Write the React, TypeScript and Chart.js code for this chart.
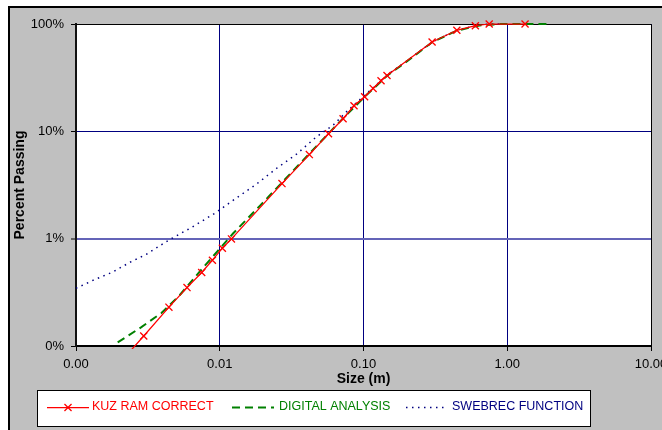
import React, { useEffect, useRef } from 'react';
import { Chart, registerables } from 'chart.js';

Chart.register(...registerables);

// Particle size (m) and cumulative percent passing for each gradation curve
const kuzSize = [0.0021, 0.00296, 0.00443, 0.00592, 0.00749, 0.00889, 0.01043, 0.01206, 0.0271, 0.042, 0.0571, 0.0721, 0.0859, 0.1018, 0.1166, 0.1324, 0.1457, 0.3, 0.446, 0.6, 0.749, 1.33];
const kuzPassing = [0.074, 0.124, 0.23, 0.35, 0.484, 0.63, 0.815, 0.995, 3.26, 6.07, 9.49, 13.1, 17.3, 21.0, 25.1, 29.6, 33.1, 67.9, 87.4, 96.4, 100, 100];

const digSize = [0.00195, 0.00285, 0.00393, 0.00526, 0.00706, 0.00922, 0.01237, 0.019, 0.0327, 0.0491, 0.072, 0.102, 0.146, 0.2, 0.3, 0.446, 0.64, 0.889, 2.0];
const digPassing = [0.108, 0.15, 0.203, 0.297, 0.473, 0.712, 1.117, 2.02, 4.35, 7.72, 13.2, 21.0, 33.0, 44.8, 67.5, 86.8, 97.0, 100, 100];

const swbSize = [0.001, 0.00135, 0.00181, 0.00236, 0.00309, 0.00441, 0.00635, 0.00922, 0.0127, 0.018, 0.0248, 0.0342, 0.0471, 0.0614, 0.0761, 0.1023, 0.146, 0.2, 0.3, 0.446, 0.6, 0.75, 1.0];
const swbPassing = [0.345, 0.416, 0.49, 0.6, 0.716, 0.968, 1.27, 1.72, 2.33, 3.22, 4.51, 6.13, 8.9, 11.4, 15.2, 21.8, 33.5, 45.2, 68.0, 87.5, 96.6, 99.7, 100];

const seriesNames = ['KUZ RAM CORRECT', 'DIGITAL ANALYSIS', 'SWEBREC FUNCTION'];

const xTickValues = [0.001, 0.01, 0.1, 1, 10];
const xTickLabels = ['0.00', '0.01', '0.10', '1.00', '10.00'];
const yTickValues = [0.1, 1, 10, 100];
const yTickLabels = ['0%', '1%', '10%', '100%'];

const FONT = '"Liberation Sans", Arial, sans-serif';

const toPoints = (xs: number[], ys: number[]) => xs.map((x, i) => ({ x, y: ys[i] }));

// White plot background plus the black frame on the top and right sides
const plotFrame = {
  id: 'plotFrame',
  beforeDraw(chart: any) {
    const { ctx, chartArea: a } = chart;
    ctx.save();
    ctx.fillStyle = '#ffffff';
    ctx.fillRect(a.left, a.top, a.right - a.left, a.bottom - a.top);
    ctx.restore();
  },
  beforeDatasetsDraw(chart: any) {
    const { ctx, chartArea: a } = chart;
    ctx.save();
    ctx.strokeStyle = '#000000';
    ctx.lineWidth = 1;
    ctx.beginPath();
    ctx.moveTo(Math.round(a.left), Math.round(a.top) + 0.5);
    ctx.lineTo(Math.round(a.right) + 0.5, Math.round(a.top) + 0.5);
    ctx.lineTo(Math.round(a.right) + 0.5, Math.round(a.bottom));
    ctx.stroke();
    ctx.restore();
  },
};

// Boxed series key along the bottom of the figure
const seriesKey = {
  id: 'seriesKey',
  afterDraw(chart: any) {
    const { ctx } = chart;
    const box = { x: 37, y: 390, w: 553, h: 37 };
    const samples = [
      { x0: 47, x1: 89, tx: 92 },
      { x0: 232, x1: 274, tx: 279 },
      { x0: 406, x1: 448, tx: 452 },
    ];
    const cy = 407.5;
    ctx.save();
    ctx.fillStyle = '#ffffff';
    ctx.fillRect(box.x, box.y, box.w, box.h);
    ctx.strokeStyle = '#000000';
    ctx.lineWidth = 1;
    ctx.strokeRect(box.x + 0.5, box.y + 0.5, box.w, box.h - 1);
    chart.data.datasets.forEach((ds: any, i: number) => {
      const s = samples[i];
      ctx.strokeStyle = ds.borderColor;
      ctx.lineWidth = ds.borderWidth;
      ctx.setLineDash(ds.borderDash || []);
      ctx.beginPath();
      ctx.moveTo(s.x0, cy);
      ctx.lineTo(s.x1, cy);
      ctx.stroke();
      ctx.setLineDash([]);
      if (ds.pointRadius > 0) {
        const r = ds.pointRadius * Math.SQRT1_2;
        const mx = (s.x0 + s.x1) / 2;
        ctx.lineWidth = ds.pointBorderWidth;
        ctx.beginPath();
        ctx.moveTo(mx - r, cy - r);
        ctx.lineTo(mx + r, cy + r);
        ctx.moveTo(mx - r, cy + r);
        ctx.lineTo(mx + r, cy - r);
        ctx.stroke();
      }
      ctx.fillStyle = ds.borderColor;
      ctx.font = `12.5px ${FONT}`;
      ctx.textAlign = 'left';
      ctx.textBaseline = 'middle';
      ctx.fillText(ds.label, s.tx, cy - 0.5);
    });
    ctx.restore();
  },
};

export default function App() {
  const canvasRef = useRef<HTMLCanvasElement | null>(null);

  useEffect(() => {
    const canvas = canvasRef.current;
    if (!canvas) return;
    const lineClip = { left: 2, top: 6, right: 6, bottom: 3 };
    const chart = new Chart(canvas, {
      type: 'line',
      data: {
        datasets: [
          {
            label: seriesNames[0],
            data: toPoints(kuzSize, kuzPassing),
            borderColor: '#ff0000',
            backgroundColor: '#ff0000',
            borderWidth: 1.25,
            pointStyle: 'crossRot',
            pointRadius: 5,
            pointBorderColor: '#ff0000',
            pointBorderWidth: 1.3,
            tension: 0,
            clip: lineClip,
          },
          {
            label: seriesNames[1],
            data: toPoints(digSize, digPassing),
            borderColor: '#008000',
            backgroundColor: '#008000',
            borderWidth: 2,
            borderDash: [8, 5],
            pointRadius: 0,
            tension: 0,
            clip: lineClip,
          },
          {
            label: seriesNames[2],
            data: toPoints(swbSize, swbPassing),
            borderColor: '#000080',
            backgroundColor: '#000080',
            borderWidth: 1.5,
            borderDash: [1.5, 4.5],
            pointRadius: 0,
            tension: 0,
            clip: lineClip,
          },
        ],
      },
      options: {
        responsive: false,
        animation: false,
        events: [],
        layout: { padding: { left: 0, top: 24, right: 11, bottom: 0 } },
        plugins: {
          legend: { display: false },
          tooltip: { enabled: false },
        },
        scales: {
          x: {
            type: 'logarithmic',
            position: 'bottom',
            min: 0.001,
            max: 10,
            afterBuildTicks: (s: any) => {
              s.ticks = xTickValues.map((v) => ({ value: v }));
            },
            afterFit: (s: any) => {
              s.height = 84;
              s.paddingLeft = 0;
              s.paddingRight = 0;
            },
            ticks: {
              callback: (_v: any, i: number) => xTickLabels[i],
              autoSkip: false,
              maxRotation: 0,
              minRotation: 0,
              padding: 6,
              color: '#000000',
              font: { family: FONT, size: 13 },
            },
            grid: { color: '#000080', lineWidth: 1, tickLength: 5, tickColor: '#000000' },
            border: { color: '#000000', width: 2 },
            title: {
              display: true,
              text: 'Size (m)',
              color: '#000000',
              font: { family: FONT, size: 14, weight: 'bold' },
              padding: { top: 0, bottom: 42 },
            },
          },
          y: {
            type: 'logarithmic',
            position: 'left',
            min: 0.1,
            max: 100,
            afterBuildTicks: (s: any) => {
              s.ticks = yTickValues.map((v) => ({ value: v }));
            },
            afterFit: (s: any) => {
              s.width = 76;
              s.paddingTop = 0;
              s.paddingBottom = 0;
            },
            ticks: {
              callback: (_v: any, i: number) => yTickLabels[i],
              autoSkip: false,
              padding: 7,
              color: '#000000',
              font: { family: FONT, size: 13 },
            },
            grid: {
              // the 1% line is rendered a little softer and wider than the others
              color: (c: any) => (c.tick && c.tick.value === 1 ? '#6464b8' : '#000080'),
              lineWidth: (c: any) => (c.tick && c.tick.value === 1 ? 2 : 1),
              tickLength: 5,
              tickColor: '#000000',
              tickWidth: 1,
            },
            border: { color: '#111111', width: 2 },
            title: {
              display: true,
              text: 'Percent Passing',
              color: '#000000',
              font: { family: FONT, size: 14, weight: 'bold' },
              padding: { top: 12, bottom: 0 },
            },
          },
        },
      } as any,
      plugins: [plotFrame, seriesKey],
    });
    return () => chart.destroy();
  }, []);

  return (
    <div
      style={{
        position: 'fixed',
        left: 0,
        top: 0,
        width: 662,
        height: 430,
        overflow: 'hidden',
        background: '#ffffff',
      }}
    >
      <div
        style={{
          position: 'absolute',
          left: 8,
          top: 6,
          width: 700,
          height: 460,
          background: '#c0c0c0',
          borderTop: '2px solid #000000',
          borderLeft: '2px solid #000000',
        }}
      />
      <canvas ref={canvasRef} width={662} height={430} style={{ position: 'absolute', left: 0, top: 0 }} />
    </div>
  );
}
